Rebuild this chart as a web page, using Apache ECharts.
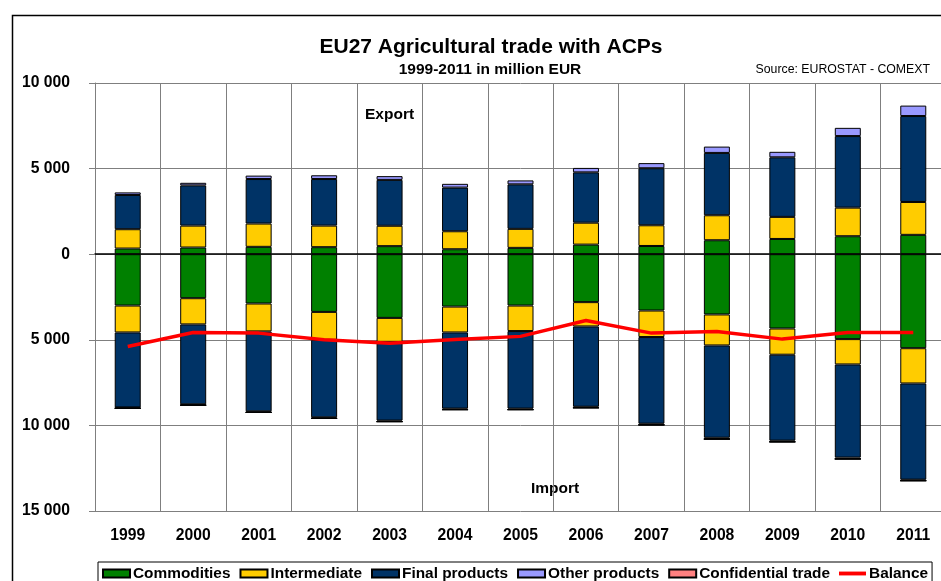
<!DOCTYPE html>
<html>
<head>
<meta charset="utf-8">
<script src="https://cdn.jsdelivr.net/npm/echarts@6/dist/echarts.min.js"></script>
<style>
  html, body { margin: 0; padding: 0; background: #fff; overflow: hidden; }
  /* the original picture is cut off on the right, so the chart is a bit wider than the window */
  #chart { width: 946px; height: 581px; }
</style>
</head>
<body>
<div id="chart"></div>
<script>
// categories
var years = ['1999', '2000', '2001', '2002', '2003', '2004', '2005', '2006', '2007', '2008', '2009', '2010', '2011'];

// export side (million EUR, positive)
var exportCommodities = [330, 390, 430, 410, 470, 290, 370, 560, 480, 815, 890, 1050, 1130];
var exportIntermediate = [1130, 1280, 1360, 1260, 1190, 1050, 1110, 1280, 1210, 1460, 1290, 1670, 1920];
var exportFinal = [2000, 2350, 2600, 2720, 2680, 2550, 2600, 2940, 3330, 3640, 3480, 4180, 5020];
var exportOther = [150, 150, 200, 220, 220, 220, 230, 260, 300, 370, 320, 480, 610];
var exportConfidential = [0, 0, 0, 0, 0, 0, 0, 0, 0, 0, 0, 0, 0];

// import side (million EUR, negative)
var importCommodities = [-3000, -2570, -2880, -3370, -3720, -3060, -3000, -2800, -3290, -3520, -4340, -4960, -5490];
var importIntermediate = [-1570, -1530, -1630, -1630, -1400, -1510, -1490, -1420, -1550, -1810, -1530, -1480, -2060];
var importFinal = [-4380, -4670, -4670, -4530, -4600, -4450, -4530, -4690, -5060, -5390, -5020, -5440, -5620];
var importOther = [-50, -50, -60, -60, -60, -60, -60, -60, -70, -80, -70, -80, -60];
var importConfidential = [0, 0, 0, 0, 0, 0, 0, 0, 0, 0, 0, 0, 0];

// balance line
var balance = [-5390, -4570, -4610, -5000, -5200, -4980, -4800, -3870, -4610, -4510, -4960, -4570, -4570];

var FONT = 'Liberation Sans, Arial, sans-serif';

// one bar series per side, same name so the legend groups them
function barSeries(name, color, data) {
  return {
    name: name,
    type: 'bar',
    stack: 'trade',
    barWidth: 26,
    data: data,
    itemStyle: { color: color, borderColor: '#000', borderWidth: 1 }
  };
}

var chart = echarts.init(document.getElementById('chart'));

var option = {
  animation: false,
  backgroundColor: '#fff',
  textStyle: { fontFamily: FONT },
  title: [
    {
      text: 'EU27 Agricultural trade with ACPs',
      left: 486,
      textAlign: 'center',
      top: 32,
      textStyle: { fontFamily: FONT, fontSize: 21, fontWeight: 'bold', color: '#000' }
    },
    {
      text: '1999-2011 in million EUR',
      left: 485,
      textAlign: 'center',
      top: 57,
      textStyle: { fontFamily: FONT, fontSize: 15.5, fontWeight: 'bold', color: '#000' }
    },
    {
      text: 'Source: EUROSTAT - COMEXT',
      right: 11,
      top: 59,
      textStyle: { fontFamily: FONT, fontSize: 12.3, fontWeight: 'normal', color: '#000' }
    }
  ],
  legend: {
    data: [
      { name: 'Commodities', icon: 'rect' },
      { name: 'Intermediate', icon: 'rect' },
      { name: 'Final products', icon: 'rect' },
      { name: 'Other products', icon: 'rect' },
      { name: 'Confidential trade', icon: 'rect' },
      { name: 'Balance', icon: 'path://M0,0L28,0L28,4L0,4Z' }
    ],
    left: 98,
    top: 562,
    padding: [4, 4, 6, 4],
    itemGap: 9,
    itemWidth: 27,
    itemHeight: 8,
    borderColor: '#000',
    borderWidth: 1,
    textStyle: { fontFamily: FONT, fontSize: 15.4, fontWeight: 'bold', color: '#000', padding: [0, 0, 0, -2] }
  },
  grid: { left: 95, right: 0, top: 83, bottom: 70 },
  xAxis: [
    {
      type: 'category',
      data: years,
      position: 'bottom',
      axisLine: { show: false, onZero: false },
      axisTick: { show: false },
      axisLabel: { margin: 17, fontFamily: FONT, fontSize: 15.7, fontWeight: 'bold', color: '#000' },
      splitLine: { show: true, lineStyle: { color: '#7f7f7f', width: 1 } }
    },
    {
      type: 'category',
      data: years,
      position: 'bottom',
      axisLine: { show: true, onZero: true, lineStyle: { color: '#000', width: 1.5 } },
      axisTick: { show: false },
      axisLabel: { show: false },
      splitLine: { show: false }
    }
  ],
  yAxis: {
    type: 'value',
    min: -15000,
    max: 10000,
    interval: 5000,
    axisLine: { show: true, lineStyle: { color: '#7f7f7f' } },
    axisTick: { show: true, length: 6, lineStyle: { color: '#7f7f7f' } },
    axisLabel: {
      margin: 25,
      fontFamily: FONT,
      fontSize: 15.7,
      fontWeight: 'bold',
      color: '#000',
      formatter: function (v) {
        return String(Math.abs(v)).replace(/\B(?=(\d{3})+(?!\d))/g, ' ');
      }
    },
    splitLine: { show: true, lineStyle: { color: '#7f7f7f', width: 1 } }
  },
  graphic: [
    { type: 'rect', left: 10, top: 13, z: -10, shape: { width: 1000, height: 1000 },
      style: { fill: 'none', stroke: '#000', lineWidth: 1.5 } },
    { type: 'text', left: 365, top: 107, style: { text: 'Export', font: 'bold 15.5px ' + FONT, fill: '#000' } },
    { type: 'text', left: 531, top: 481, style: { text: 'Import', font: 'bold 15.5px ' + FONT, fill: '#000' } }
  ],
  series: [
    barSeries('Commodities', '#008000', exportCommodities),
    barSeries('Commodities', '#008000', importCommodities),
    barSeries('Intermediate', '#ffcc00', exportIntermediate),
    barSeries('Intermediate', '#ffcc00', importIntermediate),
    barSeries('Final products', '#003366', exportFinal),
    barSeries('Final products', '#003366', importFinal),
    barSeries('Other products', '#9999ff', exportOther),
    barSeries('Other products', '#9999ff', importOther),
    barSeries('Confidential trade', '#ff8080', exportConfidential),
    barSeries('Confidential trade', '#ff8080', importConfidential),
    {
      name: 'Balance',
      type: 'line',
      data: balance,
      symbol: 'none',
      z: 5,
      lineStyle: { color: '#ff0000', width: 3.5 },
      itemStyle: { color: '#ff0000' }
    }
  ]
};

chart.setOption(option);
</script>
</body>
</html>
